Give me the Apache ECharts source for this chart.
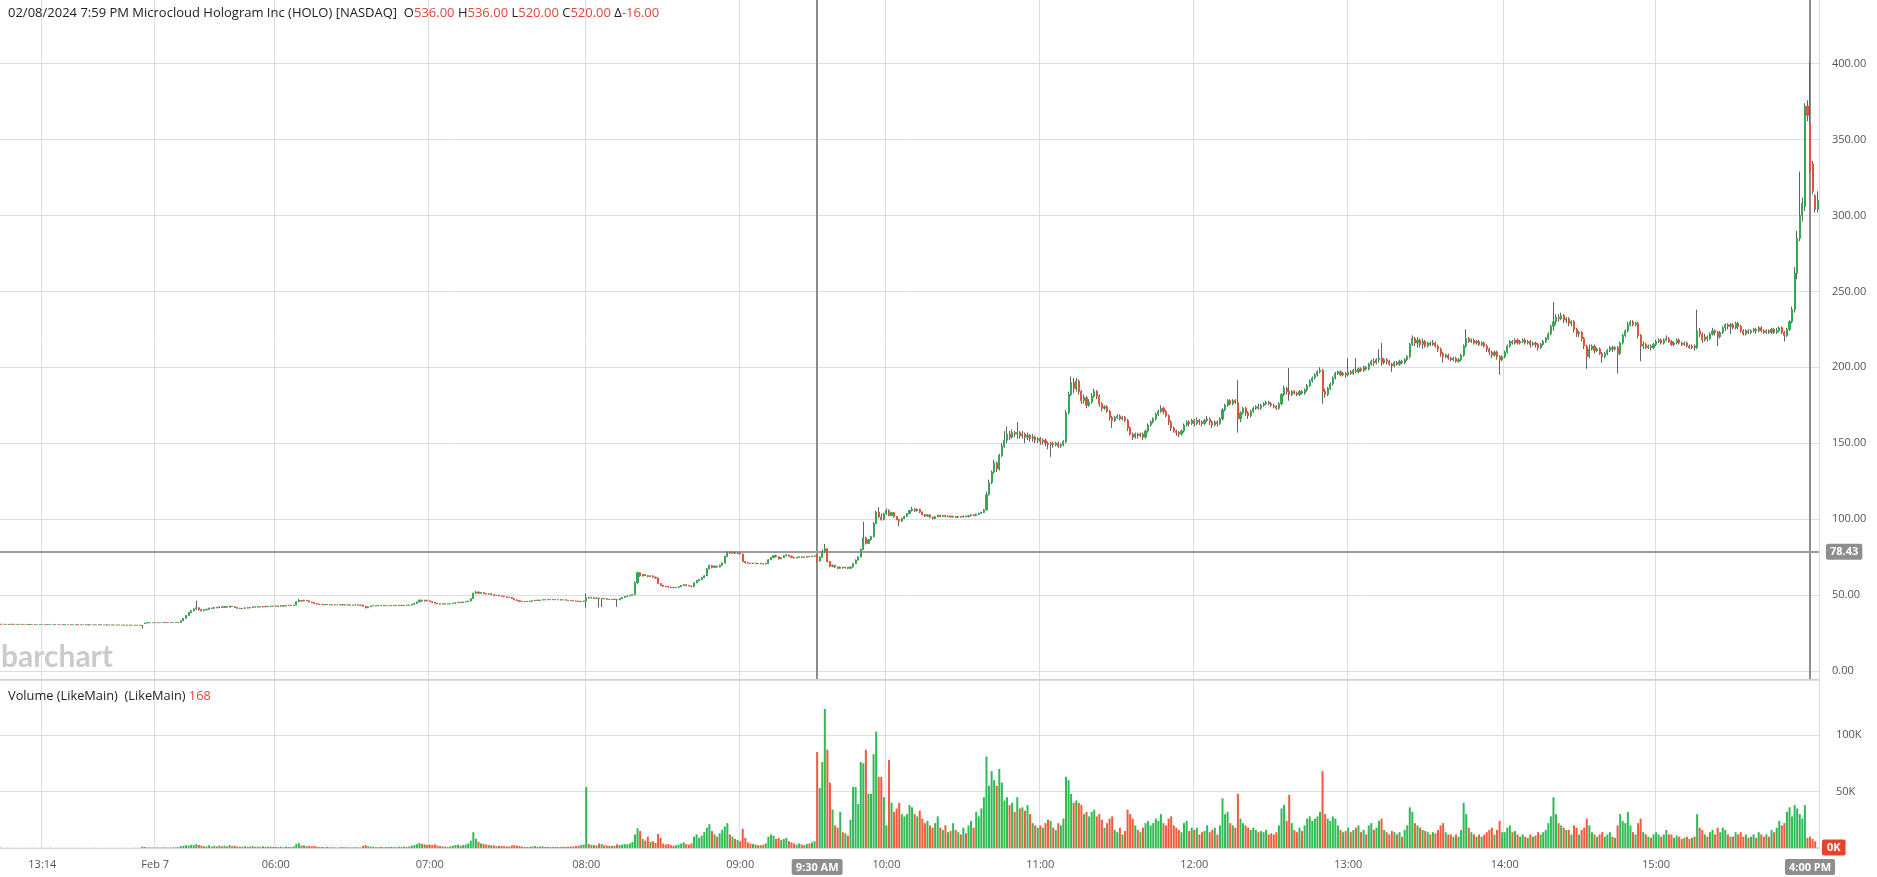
<!DOCTYPE html>
<html><head><meta charset="utf-8">
<script src="https://cdn.jsdelivr.net/npm/echarts@6/dist/echarts.min.js"></script>
<style>html,body{margin:0;padding:0;background:#fff}#c{width:1877px;height:877px}</style>
</head><body><div id="c"></div>
<script>
// ---------- chart text / ticks ----------
const headerText = '02/08/2024 7:59 PM Microcloud Hologram Inc (HOLO) [NASDAQ]';
const headerQuote = [536.00, 536.00, 520.00, 520.00, -16.00]; // O H L C change
const volumeStudyValue = 168;
const lastPrice = 78.43;
const tickIdx = [16, 60, 107, 167, 228, 288, 345, 405, 465, 525, 586, 645];
const tickLabels = ['13:14','Feb 7','06:00','07:00','08:00','09:00','10:00','11:00','12:00','13:00','14:00','15:00'];
const markerIdx = [318, 705];
const markerLabels = ['9:30 AM', '4:00 PM'];

// ---------- bars: [open, close, low, high, volume(K)] ----------
// idx 0-106
const barsEarly = [
[30.8,30.7,30.6,30.8,0.3],[30.7,30.7,30.6,30.8,0.1],[30.7,30.6,30.6,30.7,0.2],[30.6,30.7,30.6,30.7,0.1],[30.7,30.7,30.6,30.7,0.1],
[30.7,30.6,30.5,30.7,0.2],[30.6,30.6,30.5,30.7,0.1],[30.6,30.7,30.6,30.8,0.2],[30.7,30.6,30.6,30.7,0.1],[30.6,30.6,30.5,30.6,0.1],
[30.6,30.5,30.5,30.6,0.2],[30.5,30.6,30.5,30.6,0.1],[30.6,30.6,30.5,30.7,0.1],[30.6,30.5,30.5,30.6,0.2],[30.5,30.5,30.4,30.6,0.1],
[30.5,30.6,30.5,30.6,0.1],[30.6,30.6,30.5,30.6,0.2],[30.6,30.5,30.5,30.6,0.1],[30.5,30.5,30.4,30.5,0.1],[30.5,30.6,30.5,30.7,0.3],
[30.6,30.6,30.5,30.6,0.1],[30.6,30.5,30.5,30.6,0.1],[30.5,30.5,30.4,30.5,0.2],[30.5,30.5,30.4,30.6,0.1],[30.5,30.4,30.4,30.5,0.1],
[30.4,30.5,30.4,30.5,0.2],[30.5,30.5,30.4,30.5,0.1],[30.5,30.4,30.4,30.5,0.1],[30.4,30.4,30.3,30.5,0.1],[30.4,30.5,30.4,30.5,0.2],
[30.5,30.4,30.4,30.5,0.1],[30.4,30.4,30.3,30.4,0.1],[30.4,30.4,30.3,30.5,0.2],[30.4,30.3,30.3,30.4,0.1],[30.3,30.4,30.3,30.4,0.1],
[30.4,30.4,30.3,30.4,0.1],[30.4,30.3,30.3,30.4,0.2],[30.3,30.3,30.2,30.4,0.1],[30.3,30.4,30.3,30.4,0.1],[30.4,30.3,30.3,30.4,0.1],
[30.3,30.3,30.2,30.3,0.2],[30.3,30.3,30.2,30.4,0.1],[30.3,30.2,30.2,30.3,0.1],[30.2,30.3,30.2,30.3,0.1],[30.3,30.3,30.2,30.3,0.2],
[30.3,30.2,30.2,30.3,0.1],[30.2,30.2,30.1,30.3,0.1],[30.2,30.2,30.1,30.2,0.1],[30.2,30.1,30.1,30.2,0.2],[30.1,30.2,30.1,30.2,0.1],
[30.2,30.1,30.0,30.2,0.1],[30.1,30.1,30.0,30.1,0.1],[30.1,30.0,30.0,30.1,0.2],[30.0,30.1,29.9,30.1,0.1],[30.1,30.0,29.9,30.1,0.2],
[30.0,29.8,27.8,30.0,1.2],
[31.2,31.6,31.0,31.7,0.8],[31.6,31.7,31.5,31.8,0.5],[31.7,31.8,31.6,31.8,0.6],[31.8,31.8,31.7,31.9,0.4],[31.8,31.7,31.7,31.8,0.5],
[31.7,31.8,31.7,31.8,0.6],[31.8,31.8,31.7,31.9,0.4],[31.8,31.9,31.8,31.9,0.5],[31.9,31.8,31.7,31.9,0.6],[31.8,31.8,31.7,31.8,0.4],
[31.8,31.9,31.8,31.9,0.5],[31.9,31.9,31.8,32.0,0.6],[31.9,31.8,31.8,31.9,0.5],[31.8,31.9,31.8,32.0,0.8],
[31.9,33.0,31.9,33.2,1.6],[33.0,34.6,32.9,34.8,2.0],[34.6,36.5,34.5,36.8,2.4],[36.5,38.4,36.3,38.6,2.2],[38.4,39.6,38.0,40.2,2.8],[39.6,40.8,39.2,41.3,2.5],
[40.8,41.6,40.2,46.3,3.4],
[41.6,40.4,39.8,41.8,2.6],[40.4,39.6,39.2,40.6,2.2],[39.6,40.2,39.4,40.5,1.6],[40.2,40.6,40.0,40.9,1.4],[40.6,41.4,40.5,41.6,2.4],
[41.4,41.2,40.9,41.6,1.2],[41.2,41.8,41.0,42.0,1.8],[41.8,41.6,41.3,42.0,1.3],[41.6,42.2,41.5,42.4,2.2],[42.2,41.8,41.6,42.4,1.5],
[41.8,42.4,41.7,42.6,2.0],[42.4,42.0,41.8,42.5,1.4],[42.0,42.6,41.9,42.9,2.6],[42.6,42.3,42.1,42.7,1.6],[42.3,41.7,41.5,42.4,2.0],
[41.7,41.3,41.1,41.8,1.3],[41.3,41.0,40.9,41.4,1.0],[41.0,41.2,40.9,41.3,1.1],[41.2,41.6,41.1,41.7,1.6],[41.6,41.4,41.3,41.7,1.0],
[41.4,41.8,41.3,41.9,1.3],[41.8,42.2,41.7,42.3,1.7],[42.2,42.0,41.9,42.3,1.0],[42.0,42.3,41.9,42.4,1.2],[42.3,42.1,42.0,42.4,0.9],
[42.1,42.4,42.0,42.6,1.5],[42.4,42.2,42.1,42.5,1.0],[42.2,42.5,42.1,42.6,1.3],[42.5,42.7,42.4,42.8,1.2],[42.7,42.5,42.4,42.8,0.9]
];
// idx 107-166
const barsPre6 = [
[42.5,42.8,42.4,42.9,1.0],[42.8,42.6,42.5,42.9,0.8],[42.6,42.9,42.5,43.0,1.1],[42.9,42.7,42.6,43.0,0.7],[42.7,43.0,42.6,43.1,1.3],
[43.0,43.2,42.9,43.3,1.0],[43.2,43.0,42.9,43.3,0.8],[43.0,43.4,42.9,43.5,1.4],[43.4,45.6,43.3,45.8,3.6],[45.6,46.4,45.2,47.3,4.2],
[46.4,46.0,45.8,46.6,2.2],[46.0,46.6,45.9,46.8,2.4],[46.6,46.2,45.9,46.7,1.6],[46.2,45.4,45.2,46.3,2.0],[45.4,45.0,44.8,45.5,1.5],
[45.0,44.4,44.2,45.1,1.8],[44.4,44.0,43.8,44.5,1.2],[44.0,43.8,43.6,44.1,1.0],[43.8,43.6,43.5,43.9,0.9],[43.6,43.8,43.5,43.9,0.7],
[43.8,43.5,43.4,43.9,0.9],[43.5,43.6,43.4,43.7,0.6],[43.6,43.4,43.3,43.7,0.7],[43.4,43.5,43.3,43.6,0.6],[43.5,43.5,43.4,43.6,0.4],
[43.5,43.4,43.3,43.5,0.6],[43.4,43.6,43.3,43.7,0.9],[43.6,43.4,43.3,43.6,0.6],[43.4,43.5,43.3,43.6,0.7],[43.5,43.3,43.2,43.5,0.6],
[43.3,43.4,43.2,43.5,0.5],[43.4,43.5,43.3,43.6,0.7],[43.5,43.3,43.2,43.5,0.6],[43.3,43.4,43.2,43.4,0.5],[43.4,42.6,42.4,43.4,1.8],
[42.6,41.6,41.2,42.7,2.6],[41.6,42.2,41.4,42.3,1.5],[42.2,42.8,42.1,42.9,1.2],[42.8,43.0,42.7,43.1,1.0],[43.0,42.8,42.7,43.1,0.7],
[42.8,43.0,42.7,43.1,0.8],[43.0,43.1,42.9,43.2,1.0],[43.1,42.9,42.8,43.2,0.7],[42.9,43.0,42.8,43.1,0.8],[43.0,43.1,42.9,43.2,0.9],
[43.1,42.9,42.8,43.1,1.0],[42.9,43.1,42.8,43.2,0.8],[43.1,43.0,42.9,43.2,0.7],[43.0,43.2,42.9,43.3,1.1],[43.2,43.1,43.0,43.3,0.8],
[43.1,43.3,43.0,43.4,1.2],[43.3,43.2,43.1,43.4,0.9],[43.2,43.4,43.1,43.5,1.3],[43.4,43.8,43.3,43.9,2.0],[43.8,44.4,43.7,44.5,2.6],
[44.4,45.4,44.3,45.6,3.4],[45.4,46.6,45.2,47.0,4.6],[46.6,46.0,45.8,46.9,3.6],[46.0,46.6,45.8,46.8,3.2],[46.6,46.2,45.9,46.8,2.6]
];
// idx 167-227
const barsPre7 = [
[46.2,45.8,45.6,46.3,3.0],[45.8,45.2,45.0,45.9,2.6],[45.2,44.6,44.4,45.3,3.2],[44.6,44.2,44.0,44.7,2.2],[44.2,44.0,43.8,44.3,1.8],
[44.0,44.2,43.9,44.3,1.5],[44.2,44.0,43.9,44.3,1.2],[44.0,44.1,43.9,44.2,1.0],[44.1,44.3,44.0,44.4,1.5],[44.3,44.6,44.2,44.7,2.0],
[44.6,44.9,44.5,45.0,2.6],[44.9,45.2,44.8,45.3,3.0],[45.2,45.0,44.9,45.3,2.0],[45.0,45.4,44.9,45.5,2.6],[45.4,45.6,45.3,45.8,3.0],
[45.6,46.0,45.5,46.2,4.0],[46.0,47.6,45.9,47.8,6.5],[47.6,51.2,47.5,51.6,14.0],[51.2,52.0,50.6,52.6,8.2],[52.0,51.2,50.8,52.2,5.5],
[51.2,51.6,51.0,51.8,4.0],[51.6,51.0,50.8,51.7,3.6],[51.0,50.6,50.4,51.1,3.0],[50.6,50.8,50.4,50.9,2.6],[50.8,50.2,50.0,50.9,2.4],
[50.2,49.8,49.6,50.3,2.2],[49.8,49.9,49.6,50.0,1.6],[49.9,49.4,49.2,50.0,2.0],[49.4,49.2,49.0,49.5,1.8],[49.2,48.8,48.6,49.3,1.6],
[48.8,48.6,48.4,48.9,1.4],[48.6,48.4,48.2,48.7,1.3],[48.4,47.6,47.4,48.5,2.2],[47.6,46.8,46.6,47.7,2.6],[46.8,46.2,46.0,46.9,2.0],
[46.2,45.8,45.6,46.3,1.8],[45.8,45.6,45.4,45.9,1.2],[45.6,45.8,45.4,45.9,1.0],[45.8,45.6,45.5,45.9,0.9],[45.6,45.9,45.5,46.0,1.1],
[45.9,46.2,45.8,46.3,1.3],[46.2,46.6,46.1,46.7,1.7],[46.6,46.4,46.3,46.7,1.1],[46.4,46.7,46.3,46.8,1.3],[46.7,46.9,46.6,47.0,1.5],
[46.9,46.8,46.7,47.0,0.9],[46.8,47.0,46.7,47.1,1.1],[47.0,46.9,46.8,47.1,0.9],[46.9,47.0,46.8,47.1,0.8],[47.0,46.8,46.7,47.0,0.9],
[46.8,46.9,46.7,47.0,0.8],[46.9,46.7,46.6,47.0,0.9],[46.7,46.8,46.6,46.9,1.1],[46.8,46.6,46.5,46.9,0.9],[46.6,46.4,46.3,46.7,1.3],
[46.4,46.3,46.2,46.5,1.1],[46.3,46.1,46.0,46.4,1.4],[46.1,45.9,45.8,46.2,1.8],[45.9,45.7,45.6,46.0,2.0],[45.7,45.9,45.5,46.0,2.6],
[45.9,46.0,45.7,46.2,3.0]
];
// idx 228-287
const barsPre8 = [
[46.0,48.4,41.6,51.1,54],[48.4,48.0,47.6,48.6,3.5],[48.0,48.2,47.8,48.4,2.8],[48.2,47.9,47.7,48.3,2.5],[47.9,48.0,47.6,48.2,2.2],
[48.0,47.6,41.8,48.1,4.0],[47.6,47.8,42.0,47.9,3.4],[47.8,47.5,47.2,47.9,2.4],[47.5,47.2,47.0,47.6,2.2],[47.2,47.0,46.8,47.3,2.0],
[47.0,47.2,46.9,47.3,1.8],[47.2,47.0,46.8,47.3,1.9],[47.0,46.8,42.2,47.1,3.2],[46.8,47.6,46.7,47.8,2.6],[47.6,48.4,47.5,48.6,3.0],
[48.4,49.0,48.3,49.2,3.5],[49.0,49.4,48.9,49.6,3.2],[49.4,49.8,49.2,50.0,4.0],[49.8,50.2,49.6,50.4,5.5],[50.2,58.0,50.1,59.0,12.0],
[58.0,64.6,57.5,65.4,17.5],[64.6,62.6,62.0,65.0,15.0],[62.6,63.4,62.2,63.8,8.0],[63.4,62.8,62.4,63.6,6.5],[62.8,62.2,61.8,63.0,10.0],
[62.2,62.6,61.9,62.8,5.5],[62.6,61.8,61.4,62.8,6.0],[61.8,61.2,60.8,62.0,4.5],[61.2,57.6,57.2,61.4,12.5],[57.6,56.4,56.0,57.8,9.0],
[56.4,55.8,55.4,56.6,4.0],[55.8,55.6,55.2,56.0,3.0],[55.6,55.2,54.9,55.8,3.5],[55.2,54.9,54.6,55.4,2.5],[54.9,54.8,54.5,55.1,2.0],
[54.8,55.0,54.6,55.2,2.5],[55.0,55.4,54.9,55.6,3.0],[55.4,56.2,55.3,56.4,4.0],[56.2,56.8,56.0,57.0,5.0],[56.8,56.4,56.2,57.0,3.5],
[56.4,56.0,55.8,56.6,3.0],[56.0,55.4,55.2,56.1,4.0],[55.4,58.0,55.3,58.4,10.0],[58.0,59.4,57.8,59.8,12.0],[59.4,60.2,59.0,60.6,9.0],
[60.2,61.4,60.0,61.8,11.0],[61.4,62.6,61.2,63.0,14.0],[62.6,67.2,62.5,67.8,18.0],[67.2,69.4,66.8,70.0,21.0],[69.4,68.2,67.6,69.8,15.0],
[68.2,69.0,67.8,69.4,12.0],[69.0,68.4,67.9,69.2,10.0],[68.4,69.6,68.2,70.0,13.0],[69.6,71.0,69.4,71.4,16.0],[71.0,75.4,70.8,75.8,19.0],
[75.4,78.0,75.0,78.6,22.0],[78.0,77.6,77.0,78.4,12.0],[77.6,78.2,77.2,78.6,10.0],[78.2,77.4,77.0,78.4,8.0],[77.4,77.6,77.0,78.0,7.0]
];
// idx 288-344
const barsHour09 = [
[77.6,77.0,76.6,77.8,6],[77.0,72.0,71.6,77.2,17],[72.0,71.2,70.8,72.4,9],[71.2,71.0,70.6,71.4,5],[71.0,70.8,70.4,71.2,4],
[70.8,71.0,70.5,71.2,3.5],[71.0,70.6,70.4,71.2,3],[70.6,70.8,70.4,71.0,2.5],[70.8,70.6,70.3,71.0,2.5],[70.6,70.4,70.2,70.8,3],
[70.4,70.8,70.2,71.0,4],[70.8,73.2,70.7,73.6,10],[73.2,74.6,73.0,75.0,12],[74.6,76.0,74.4,76.4,11],[76.0,75.2,74.8,76.4,8],
[75.2,73.8,73.4,75.4,9],[73.8,74.6,73.6,74.9,7],[74.6,75.8,74.4,76.2,8],[75.8,76.4,75.6,76.8,9],[76.4,75.6,75.2,76.6,6],
[75.6,74.8,74.4,75.8,5],[74.8,74.4,74.0,75.0,4],[74.4,74.8,74.2,75.0,3],[74.8,75.2,74.6,75.4,4],[75.2,74.8,74.6,75.4,3],
[74.8,75.0,74.6,75.2,2.5],[75.0,75.4,74.8,75.6,3.5],[75.4,75.2,74.9,75.6,4],[75.2,75.6,75.0,75.8,5],[75.6,75.8,75.2,76.0,6],
[75.8,72.4,71.8,76.2,85],[72.4,74.8,72.0,75.4,53],[74.8,78.6,74.4,80.0,76],[78.6,80.4,77.8,83.6,123],[80.4,72.0,71.4,80.8,87],
[72.0,69.0,68.4,72.4,58],[69.0,69.6,68.2,70.0,34],[69.6,68.4,67.8,69.8,20],[68.4,67.6,67.2,68.6,18],[67.6,68.4,67.4,68.8,32],
[68.4,67.8,67.4,68.6,14],[67.8,68.2,67.5,68.6,13],[68.2,67.6,67.2,68.4,11],[67.6,68.4,67.4,68.8,25],[68.4,70.6,68.2,71.0,54],
[70.6,73.0,70.4,73.4,54],[73.0,75.0,72.8,75.6,39],[75.0,80.0,74.8,80.6,76],[80.0,87.6,79.6,98.3,75],[87.6,84.0,83.2,88.2,87],
[84.0,86.4,83.6,87.0,48],[86.4,88.4,85.8,89.0,48],[88.4,97.0,88.0,98.0,83],[97.0,104.6,96.6,105.6,103],[104.6,101.4,100.8,107.8,63],
[101.4,99.6,99.0,103.6,63],[99.6,103.4,99.2,104.2,45]
];
// idx 345-404
const barsHour10 = [
[103.4,105.6,103.0,107.0,20],[105.6,102.4,101.8,106.4,78],[102.4,104.2,102.0,104.8,40],[104.2,101.6,101.0,104.6,32],[101.6,99.8,99.2,102.0,35],
[99.8,98.6,95.2,100.2,40],[98.6,100.4,98.2,101.0,30],[100.4,101.8,100.0,102.2,28],[101.8,103.6,101.4,104.0,30],[103.6,105.6,103.2,106.2,38],
[105.6,106.6,105.0,108.0,36],[106.6,105.4,104.8,107.2,30],[105.4,106.4,105.0,107.0,28],[106.4,104.6,104.0,106.8,33],[104.6,103.0,102.4,105.0,26],
[103.0,102.0,101.4,103.4,22],[102.0,102.8,101.6,103.2,24],[102.8,101.2,100.6,103.0,20],[101.2,100.4,99.8,101.6,18],[100.4,101.6,100.0,102.0,22],
[101.6,102.6,101.2,103.0,28],[102.6,101.8,101.2,102.8,18],[101.8,102.4,101.4,102.8,16],[102.4,101.6,101.2,102.6,20],[101.6,102.0,101.2,102.4,14],
[102.0,101.4,101.0,102.2,15],[101.4,101.8,101.0,102.2,22],[101.8,101.2,100.8,102.0,16],[101.2,101.6,100.8,102.0,14],[101.6,101.4,101.0,101.8,12],
[101.4,102.0,101.0,102.4,18],[102.0,101.6,101.2,102.2,13],[101.6,102.2,101.2,102.6,20],[102.2,102.8,101.8,103.2,24],[102.8,102.4,102.0,103.2,18],
[102.4,103.2,102.0,103.6,32],[103.2,103.8,102.8,104.2,28],[103.8,104.4,103.4,104.8,35],[104.4,106.0,104.0,106.6,45],[106,116,105.8,118,81],
[116,124,115.6,126,55],[124,131,123,132,68],[131,137,130,139,60],[137,133,131,138,55],[133,142,132,143,70],
[142,148,141,150,58],[148,152,147,158,42],[152,156,150,161,45],[156,154,152,158,38],[154,157,153,159,40],
[157,156,154,158,32],[156,157,153,164,45],[157,155,153,158,35],[155,156,153,158,36],[156,154,150,157,33],
[154,155,152,157,38],[155,153,151,156,30],[153,154,151,156,22],[154,152,150,155,20],[152,153,150,154,18]
];
// idx 405-464
const barsHour11 = [
[153,151,149,154,20],[151,152,149,153,18],[152,150,148,153,22],[150,149,146,151,25],[149,150,141,151,24],
[150,149,147,151,18],[149,150,148,151,16],[150,148,147,151,22],[148,149,147,150,20],[149,151,148,152,26],
[151,170,150,172,63],[170,182,169,184,60],[182,190,181,194,48],[190,186,183,193,40],[186,191,184,193,42],
[191,184,182,192,40],[184,178,176,185,38],[178,180,176,182,30],[180,175,173,181,32],[175,177,174,179,28],
[177,181,176,183,32],[181,184,180,186,34],[184,181,179,185,28],[181,176,174,182,30],[176,173,171,177,25],
[173,174,172,175,18],[174,171,170,175,22],[171,167,165,172,26],[167,165,160,168,28],[165,167,164,168,16],
[167,168,166,169,14],[168,166,165,169,18],[166,167,165,168,12],[167,165,164,168,15],[165,160,158,166,34],
[160,156,155,161,30],[156,154,152,157,26],[154,156,153,157,20],[156,155,153,157,16],[155,156,154,157,14],
[156,154,152,157,18],[154,158,153,159,22],[158,162,157,163,24],[162,164,161,165,20],[164,166,163,167,22],
[166,169,165,170,26],[169,171,168,172,24],[171,173,170,175,30],[173,171,169,174,22],[171,168,167,172,20],
[168,164,162,169,26],[164,160,158,165,28],[160,158,157,161,20],[158,157,155,159,18],[157,156,154,158,16],
[156,158,155,159,14],[158,162,157,163,22],[162,164,161,165,24],[164,163,161,165,15],[163,165,162,166,18]
];
// idx 465-524
const barsHour12 = [
[165,163,161,166,16],[163,165,162,167,18],[165,164,162,166,12],[164,163,161,165,14],[163,165,162,166,15],
[165,166,164,168,20],[166,164,162,167,14],[164,162,160,165,16],[162,164,161,165,18],[164,163,161,165,12],
[163,166,162,167,20],[166,172,165,173,44],[172,175,171,176,30],[175,178,174,179,32],[178,176,175,179,22],
[176,178,175,179,20],[178,177,176,179,18],[177,166,157,191.6,48],[166,170,164,171,26],[170,173,169,174,22],
[173,170,168,174,20],[170,168,166,171,18],[168,171,167,172,16],[171,173,170,174,18],[173,174,172,175,16],
[174,173,172,176,14],[173,175,172,176,15],[175,176,174,177,14],[176,177,175,178,16],[177,176,175,178,12],
[176,175,174,177,13],[175,174,173,176,12],[174,173,172,175,14],[173,176,172,177,20],[176,182,175,183,35],
[182,186,181,188,38],[186,184,182,187,24],[184,182,178,199.5,47],[182,184,181,185,22],[184,183,182,185,16],
[183,182,181,184,14],[182,184,181,185,18],[184,183,182,185,15],[183,185,182,186,20],[185,188,184,189,26],
[188,191,187,192,28],[191,193,190,194,24],[193,195,192,196,26],[195,197,194,198,28],[197,198,196,200,32],
[198,184,176,199,68],[184,182,180,186,30],[182,186,181,187,26],[186,189,185,190,24],[189,193,188,194,28],
[193,196,192,197,26],[196,197,195,198,20],[197,195,194,198,16],[195,196,194,197,14],[196,195,193,197,15]
];
// idx 525-585
const barsHour13 = [
[195,197,194,206,18],[197,196,195,198,14],[196,198,195,199,16],[198,197,196,206,18],[197,199,196,200,20],
[199,198,197,200,14],[198,200,197,201,16],[200,199,198,201,12],[199,202,198,203,20],[202,204,201,205,22],
[204,203,201,206,16],[203,205,202,206,18],[205,206,203,212,24],[206,203,201,216,26],[203,205,202,206,16],
[205,204,202,206,14],[204,202,201,205,12],[202,201,197,203,15],[201,203,200,204,14],[203,202,201,204,12],
[202,204,201,205,14],[204,203,202,205,10],[203,205,202,206,16],[205,207,204,208,20],[207,215,206,216,36],
[215,219,214,221,32],[219,216,214,220,22],[216,218,213,220,20],[218,215,213,219,18],[215,217,212,219,16],
[217,214,213,218,15],[214,216,213,217,14],[216,215,214,217,12],[215,216,214,218,14],[216,214,213,217,13],
[214,212,210,215,16],[212,209,207,213,20],[209,207,203,210,22],[207,208,206,209,14],[208,206,205,209,12],
[206,205,204,207,12],[205,206,204,207,10],[206,204,203,207,12],[204,205,203,206,10],[205,208,204,209,16],
[208,214,207,215,40],[214,219,213,225,30],[219,217,216,220,18],[217,218,216,219,14],[218,216,215,219,12],
[216,217,215,218,10],[217,215,214,218,12],[215,216,214,217,10],[216,214,213,217,12],[214,212,210,215,14],
[212,210,208,213,16],[210,208,206,211,18],[208,210,207,211,12],[210,207,205,211,16],[207,205,195,208,24],
[205,207,204,208,14]
];
// idx 586-644
const barsHour14 = [
[207,210,206,211,14],[210,214,209,215,18],[214,217,213,218,20],[217,216,215,218,14],[216,218,215,219,15],
[218,216,215,219,12],[216,217,215,218,10],[217,218,216,219,12],[218,216,215,219,10],[216,217,215,218,9],
[217,215,213,218,12],[215,216,214,217,10],[216,215,213,217,11],[215,213,211,216,14],[213,215,212,216,12],
[215,217,214,218,14],[217,219,216,220,16],[219,222,218,223,22],[222,227,221,228,28],[227,230,224,243,45],
[230,233,228,235,30],[233,232,230,235,22],[232,234,231,236,20],[234,231,229,235,18],[231,232,229,233,16],
[232,229,227,233,16],[229,230,227,231,12],[230,225,223,231,20],[225,222,220,226,18],[222,223,220,224,12],
[223,219,217,224,16],[219,214,212,220,18],[214,207,199,215,26],[207,212,206,215,20],[212,214,211,215,14],
[214,211,209,215,12],[211,212,210,213,10],[212,209,208,213,12],[209,207,203,210,14],[207,209,206,210,10],
[209,211,208,212,12],[211,213,210,214,14],[213,212,210,214,10],[212,213,211,214,9],[213,209,196,214,20],
[209,216,208,217,30],[216,221,215,222,24],[221,224,220,225,22],[224,228,223,230,32],[228,230,227,231,20],
[230,228,227,231,14],[228,229,227,230,12],[229,221,219,230,22],[221,214,204,222,26],[214,215,212,217,14],
[215,213,212,216,12],[213,214,212,215,10],[214,213,211,215,9],[213,215,212,216,12]
];
// idx 645-708
const barsHour15 = [
[215,217,214,218,14],[217,218,216,219,12],[218,216,215,219,10],[216,218,215,219,12],[218,219,217,221,16],
[219,217,216,220,12],[217,215,214,218,12],[215,216,214,217,9],[216,218,215,219,11],[218,216,215,219,10],
[216,215,214,217,8],[215,216,214,217,9],[216,214,213,217,10],[214,213,212,215,8],[213,214,212,215,9],
[214,213,211,215,10],[213,224,212,238,30],[224,222,220,226,18],[222,218,216,223,16],[218,220,217,222,12],
[220,219,217,221,10],[219,222,218,223,14],[222,224,221,226,16],[224,223,221,225,12],[223,220,214,224,18],
[220,223,219,224,14],[223,226,222,227,18],[226,228,224,229,16],[228,227,225,229,12],[227,228,222,229,10],
[228,226,225,229,10],[226,229,225,230,14],[229,227,225,230,12],[227,224,223,228,14],[224,222,221,225,10],
[222,224,221,225,12],[224,223,222,225,9],[223,224,222,225,10],[224,225,223,226,12],[225,224,222,226,9],
[224,226,223,227,14],[226,224,223,227,12],[224,223,222,225,10],[223,224,222,225,12],[224,223,222,225,10],
[223,225,222,226,16],[225,223,222,226,14],[223,224,222,226,18],[224,226,223,227,24],[226,223,222,227,20],
[223,221,217,224,22],[221,225,220,226,32],[225,230,224,231,36],[230,238,229,240,28],[238,262,236,266,38],
[262,285,258,290,35],[285,300,283,329,30],[300,308,296,312,26],[306,372,303,374,38],[372,366,362,376,9],
[360,330,328,401,10],[334,316,314,336,8],[313,304,302,314,6],[304,310,302,316,0.4]
];

// ---------- build ----------
const bars = [].concat(barsEarly, barsPre6, barsPre7, barsPre8, barsHour09, barsHour10, barsHour11, barsHour12, barsHour13, barsHour14, barsHour15);
const N = bars.length;
const cats = bars.map((_, i) => i);
const UP = '#34a853', DN = '#e0533f', FLAT = '#8a8a8a';
const VUP = '#2dbb54', VDN = '#f15a3c';
const WICK = '#626262';
const ohlc = bars.map(r => [r[0], r[1], r[2], r[3]]);
const bodies = bars.map(r => [r[0], r[1], Math.min(r[0], r[1]), Math.max(r[0], r[1])]);
const vols = bars.map(r => ({ value: r[4], itemStyle: { color: r[1] > r[0] ? VUP : (r[1] < r[0] ? VDN : FLAT) } }));
const lastVol = bars[N - 1][4];
const tickSet = new Set(tickIdx);
const labelMap = new Map();
tickIdx.forEach((t, k) => labelMap.set(t, tickLabels[k]));
markerIdx.forEach((t, k) => labelMap.set(t, '{mk|' + markerLabels[k] + '}'));

const FONT = 'Open Sans';
const PLOT_W = 1819;
const chart = echarts.init(document.getElementById('c'), null, { renderer: 'canvas' });
chart.setOption({
  animation: false,
  backgroundColor: '#fff',
  textStyle: { fontFamily: FONT },
  title: [
    {
      left: 3, top: 2,
      text: '{t|' + headerText + '}  {t|O}{r|' + headerQuote[0].toFixed(2) + '} {t|H}{r|' + headerQuote[1].toFixed(2) +
        '} {t|L}{r|' + headerQuote[2].toFixed(2) + '} {t|C}{r|' + headerQuote[3].toFixed(2) + '} {t|\u0394}{r|' + headerQuote[4].toFixed(2) + '}',
      textStyle: { fontWeight: 'normal', fontSize: 13, rich: {
        t: { fontFamily: FONT, fontSize: 13, fontWeight: 'normal', color: '#222' },
        r: { fontFamily: FONT, fontSize: 13, fontWeight: 'normal', color: '#e2463a' }
      } }
    },
    {
      left: 3, top: 685,
      text: '{t|Volume (LikeMain)  (LikeMain)} {r|' + volumeStudyValue + '}',
      textStyle: { fontWeight: 'normal', fontSize: 12.8, rich: {
        t: { fontFamily: FONT, fontSize: 12.8, fontWeight: 'normal', color: '#222' },
        r: { fontFamily: FONT, fontSize: 12.8, fontWeight: 'normal', color: '#e2463a' }
      } }
    }
  ],
  graphic: [
    { type: 'text', left: 1, top: 642, silent: true,
      style: { text: 'barchart', fontFamily: 'Lato', fontWeight: 'bold', fontSize: 30, fill: '#cbcbcb' } }
  ],
  grid: [
    { left: 0, top: 63.7, width: PLOT_W, height: 607.2 },
    { left: 0, top: 680, width: PLOT_W, height: 168 },
    { left: 0, top: 0, width: PLOT_W, height: 679 }
  ],
  xAxis: [
    { type: 'category', gridIndex: 0, data: cats, axisLine: { show: false }, axisTick: { show: false },
      axisLabel: { show: false }, splitLine: { show: false } },
    { type: 'category', gridIndex: 1, data: cats, axisLine: { show: true, lineStyle: { color: '#d6d6d6' } },
      axisTick: { show: false }, splitLine: { show: true, interval: (i) => tickSet.has(i), lineStyle: { color: '#dedede' } },
      axisLabel: { interval: (i) => labelMap.has(i), formatter: (v, i) => labelMap.get(i) || '', margin: 11,
        color: '#555', fontSize: 11, fontFamily: FONT,
        rich: { mk: { backgroundColor: '#8e8e8e', color: '#fff', fontWeight: 'bold', fontSize: 11, fontFamily: FONT, padding: [3, 4, 2, 4], borderRadius: 2 } } } },
    { type: 'category', gridIndex: 2, data: cats, axisLine: { show: true, lineStyle: { color: '#cfcfcf' } },
      axisTick: { show: false }, axisLabel: { show: false },
      splitLine: { show: true, interval: (i) => tickSet.has(i), lineStyle: { color: '#dedede' } } }
  ],
  yAxis: [
    { type: 'value', gridIndex: 0, position: 'right', min: 0, max: 400, interval: 50,
      axisLine: { show: false }, axisTick: { show: false },
      axisLabel: { margin: 13, color: '#555', fontSize: 11, fontFamily: FONT, formatter: (v) => v.toFixed(2) },
      splitLine: { lineStyle: { color: '#dedede' } } },
    { type: 'value', gridIndex: 1, position: 'right', min: 0, max: 148.7, interval: 50,
      axisLine: { show: true, lineStyle: { color: '#dcdcdc' } }, axisTick: { show: false },
      axisLabel: { margin: 17, color: '#555', fontSize: 11, fontFamily: FONT, formatter: (v) => v + 'K', showMinLabel: false, showMaxLabel: false },
      splitLine: { lineStyle: { color: '#dedede' } } },
    { type: 'value', gridIndex: 2, position: 'right', min: 0, max: 1,
      axisLine: { show: true, lineStyle: { color: '#dcdcdc' } }, axisTick: { show: false }, axisLabel: { show: false }, splitLine: { show: false } }
  ],
  series: [
    { type: 'scatter', name: 'frame', xAxisIndex: 2, yAxisIndex: 2, data: [[0, 0]], symbolSize: 0, silent: true, z: 1,
      markLine: { silent: true, symbol: ['none', 'none'], animation: false, z: 1,
        data: markerIdx.map(i => ({ xAxis: i })),
        lineStyle: { color: '#8c8c8c', width: 2, type: 'solid' }, label: { show: false } } },
    { type: 'candlestick', name: 'wick', xAxisIndex: 0, yAxisIndex: 0, data: ohlc, large: false, silent: true,
      barWidth: 0.1, clip: false, z: 3,
      itemStyle: { color: WICK, color0: WICK, borderColor: WICK, borderColor0: WICK, borderColorDoji: WICK, borderWidth: 1 },
      markLine: { silent: true, symbol: ['none', 'none'], animation: false, z: 2,
        data: [{ yAxis: lastPrice }],
        lineStyle: { color: '#9b9b9b', width: 2, type: 'solid' },
        label: { show: true, position: 'end', distance: 7, formatter: lastPrice.toFixed(2), backgroundColor: '#8e8e8e',
          color: '#fff', fontWeight: 'bold', fontSize: 11, fontFamily: FONT, padding: [3, 4, 2, 4], borderRadius: 2 } } },
    { type: 'candlestick', name: 'body', xAxisIndex: 0, yAxisIndex: 0, data: bodies, large: false, silent: true,
      barWidth: 1.6, clip: false, z: 4,
      itemStyle: { color: UP, color0: DN, borderColor: UP, borderColor0: DN, borderColorDoji: FLAT, borderWidth: 1 } },
    { type: 'bar', name: 'volume', xAxisIndex: 1, yAxisIndex: 1, data: vols, large: false, silent: true, barWidth: 2,
      markLine: { silent: true, symbol: ['none', 'none'], animation: false,
        data: [{ yAxis: lastVol }], lineStyle: { color: 'rgba(0,0,0,0)', width: 0 },
        label: { show: true, position: 'end', distance: 3, formatter: Math.round(lastVol) + 'K', backgroundColor: '#e8412c',
          color: '#fff', fontWeight: 'bold', fontSize: 11, fontFamily: FONT, padding: [3, 5, 2, 5], borderRadius: 2 } } }
  ]
});
</script>
</body></html>
